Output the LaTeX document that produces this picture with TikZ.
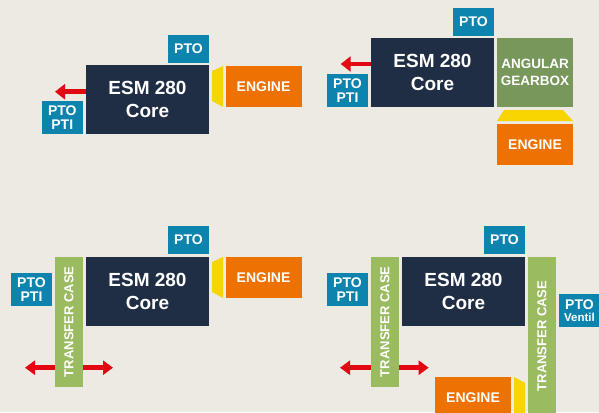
\documentclass[tikz,border=0pt]{standalone}
\usepackage{fontspec}
\setmainfont{Liberation Sans}
\usetikzlibrary{arrows.meta}

\definecolor{bgcol}{HTML}{EDEAE4}
\definecolor{navy}{HTML}{1F2E44}
\definecolor{ptoblue}{HTML}{0D84AE}
\definecolor{engorange}{HTML}{EE7203}
\definecolor{coupyellow}{HTML}{F8D500}
\definecolor{geargreen}{HTML}{77985A}
\definecolor{tcgreen}{HTML}{9ABB5F}
\definecolor{arrred}{HTML}{E30613}

\tikzset{
  box/.style={inner sep=0pt,align=center,text=white},
  core/.style={box,fill=navy,minimum width=123pt,minimum height=69pt,
    font=\bfseries\fontsize{19}{22.6}\selectfont},
  pto/.style={box,fill=ptoblue,minimum width=41pt,minimum height=28pt,
    font=\bfseries\fontsize{14}{14.5}\selectfont},
  ptoin/.style={pto,minimum height=33pt},
  engine/.style={box,fill=engorange,minimum width=76pt,minimum height=41pt,
    font=\bfseries\fontsize{14}{14.5}\selectfont},
  gearbox/.style={box,fill=geargreen,minimum width=76pt,minimum height=69pt,
    font=\bfseries\fontsize{13.5}{16.7}\selectfont},
  tcase/.style={box,fill=tcgreen,rotate=90,minimum height=28pt,
    font=\bfseries\fontsize{13}{13}\selectfont},
  redarrow/.style={arrred,line width=4.5pt,-{Triangle[length=10pt,width=15pt]}},
  dblarrow/.style={arrred,line width=4.5pt,{Triangle[length=10pt,width=14pt]}-{Triangle[length=10pt,width=14pt]}}
}

\begin{document}
\begin{tikzpicture}[x=1pt,y=-1pt]
\fill[bgcol] (0,0) rectangle (599,412);
\useasboundingbox (0,0) rectangle (599,412);

% top left
\node[core] (core1) at (147.5,99.5) {ESM 280\\Core};
\node[pto] (pto1) at (188.5,49) {PTO};
\node[ptoin] (ptoin1) at (62.3,117.5) {PTO\\PTI};
\node[engine] (eng1) at (263.5,86.3) {ENGINE};
\fill[coupyellow] (212,71) -- (223,66) -- (223,107) -- (212,101) -- cycle;
\coordinate (tip1) at (55,91.7);
\draw[redarrow] (tip1 -| core1.west) -- (tip1);

% top right
\node[core] (core2) at (432.5,72.5) {ESM 280\\Core};
\node[pto] (pto2) at (473.5,22) {PTO};
\node[ptoin] (ptoin2) at (347.5,90.5) {PTO\\PTI};
\node[gearbox] (gear2) at (535,72.5) {ANGULAR\\GEARBOX};
\fill[coupyellow] (504,110) -- (563,110) -- (573,121) -- (497,121) -- cycle;
\node[engine] (eng2) at (535,144.3) {ENGINE};
\coordinate (tip2) at (340.7,64);
\draw[redarrow] (tip2 -| core2.west) -- (tip2);

% bottom left
\coordinate (dl3) at (25,367.7);
\coordinate (dr3) at (113,367.7);
\draw[dblarrow] (dl3) -- (dr3);
\node[core] (core3) at (147.5,291.5) {ESM 280\\Core};
\node[pto] (pto3) at (188.5,240) {PTO};
\node[engine] (eng3) at (263.5,277.3) {ENGINE};
\fill[coupyellow] (212,262) -- (223,257) -- (223,298) -- (212,292) -- cycle;
\node[tcase,minimum width=130pt] (tc3) at (68.8,321.8) {TRANSFER CASE};
\node[ptoin] (ptoin3) at (31.5,289.5) {PTO\\PTI};

% bottom right
\coordinate (dl4) at (340,367.7);
\coordinate (dr4) at (428.7,367.7);
\draw[dblarrow] (dl4) -- (dr4);
\node[core] (core4) at (463.5,291.5) {ESM 280\\Core};
\node[pto] (pto4) at (504.5,240) {PTO};
\node[tcase,minimum width=130pt] (tc4a) at (385,321.8) {TRANSFER CASE};
\node[ptoin] (ptoin4) at (347.5,289.5) {PTO\\PTI};
\node[tcase,minimum width=158pt] (tc4b) at (542,336) {TRANSFER CASE};
\node[ptoin] (ptov4) at (579.5,310.5) {PTO\\[-2pt]\fontsize{11.5}{12}\selectfont Ventil};
\node[engine] (eng4) at (473,397.5) {ENGINE};
\fill[coupyellow] (514,377) -- (525,382.7) -- (525,420) -- (514,420) -- cycle;

\end{tikzpicture}
\end{document}
